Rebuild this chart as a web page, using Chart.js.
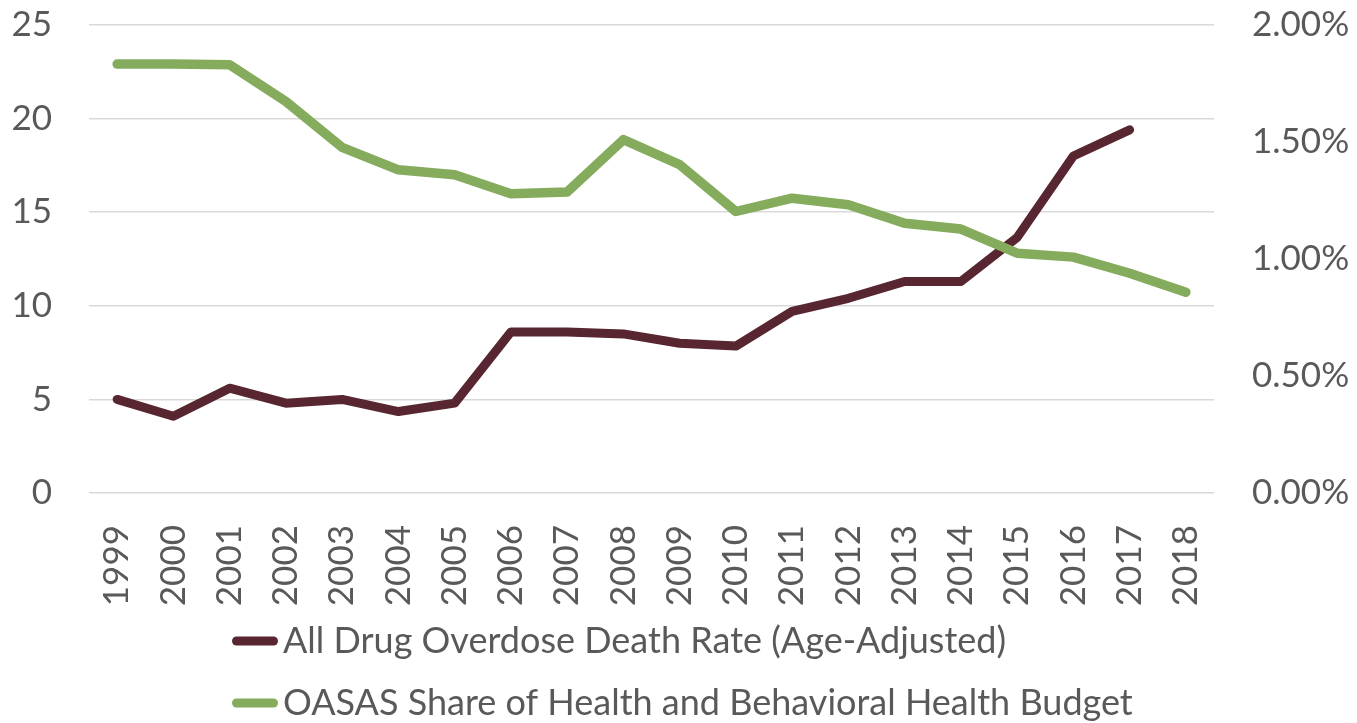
<!DOCTYPE html>
<html>
<head>
<meta charset="utf-8">
<title>Overdose deaths and OASAS budget share</title>
<script src="https://cdn.jsdelivr.net/npm/chart.js@4.4.1/dist/chart.umd.min.js"></script>
<style>
  html, body { margin: 0; padding: 0; background: #fff; }
  #wrap { width: 1357px; height: 723px; position: relative; }
</style>
</head>
<body>
<div id="wrap"><canvas id="overdose-chart"></canvas></div>
<script>
// Data series
const years = ['1999', '2000', '2001', '2002', '2003', '2004', '2005', '2006', '2007', '2008',
  '2009', '2010', '2011', '2012', '2013', '2014', '2015', '2016', '2017', '2018'];

// deaths per 100k, age-adjusted (no 2018 value yet)
const deathRate = [5.0, 4.1, 5.6, 4.8, 5.0, 4.35, 4.8, 8.6, 8.6, 8.5,
  8.0, 7.85, 9.7, 10.4, 11.3, 11.3, 13.65, 18.0, 19.4, null];

// OASAS share of health + behavioral health budget, in percent
const oasasShare = [1.833, 1.833, 1.830, 1.673, 1.477, 1.381, 1.360, 1.279, 1.286, 1.510,
  1.403, 1.203, 1.260, 1.232, 1.153, 1.128, 1.025, 1.008, 0.939, 0.858];

const rateAxis = { min: 0, max: 25, step: 5 };
const shareAxis = { min: 0, max: 2, step: 0.5 };

const seriesLabels = [
  'All Drug Overdose Death Rate (Age-Adjusted)',
  'OASAS Share of Health and Behavioral Health Budget'
];

const TEXT = '#595959';
const GRID = '#d9d9d9';
const FONT = 'Lato, "Noto Sans", sans-serif';

// fixed axis boxes; tick padding would otherwise push the plot area down
const fixWidth = w => scale => {
  scale.width = w;
  scale.paddingTop = 0;
  scale.paddingBottom = 0;
};

// Legend stacked in two left-aligned rows under the axis
const stackedLegend = {
  id: 'stackedLegend',
  afterDraw(chart, args, opts) {
    const { ctx } = chart;
    ctx.save();
    ctx.font = `${opts.size}px ${FONT}`;
    ctx.textBaseline = 'middle';
    ctx.textAlign = 'left';
    chart.data.datasets.forEach((ds, i) => {
      const y = opts.top + i * opts.rowHeight;
      ctx.strokeStyle = ds.borderColor;
      ctx.lineWidth = 9;
      ctx.lineCap = 'round';
      ctx.beginPath();
      ctx.moveTo(opts.left + 4.5, y);
      ctx.lineTo(opts.left + 41.5, y);
      ctx.stroke();
      ctx.fillStyle = TEXT;
      ctx.fillText(ds.label, opts.left + 51, y);
    });
    ctx.restore();
  }
};

const ctx = document.getElementById('overdose-chart');

new Chart(ctx, {
  type: 'line',
  data: {
    labels: years,
    datasets: [
      {
        label: seriesLabels[0],
        data: deathRate,
        yAxisID: 'rate',
        borderColor: '#582631',
        backgroundColor: '#582631',
        borderWidth: 9,
        order: 1
      },
      {
        label: seriesLabels[1],
        data: oasasShare,
        yAxisID: 'share',
        borderColor: '#84ac5c',
        backgroundColor: '#84ac5c',
        borderWidth: 9.5,
        order: 0
      }
    ]
  },
  options: {
    responsive: true,
    maintainAspectRatio: false,
    animation: false,
    layout: {
      autoPadding: false,
      padding: { top: 25, bottom: 100, left: 0, right: 0 }
    },
    elements: {
      line: { tension: 0, borderCapStyle: 'round', borderJoinStyle: 'round', spanGaps: false },
      point: { radius: 0, hoverRadius: 0 }
    },
    scales: {
      x: {
        offset: true,
        grid: { display: false },
        border: { display: false },
        ticks: {
          color: TEXT,
          font: { family: FONT, size: 35 },
          minRotation: 90,
          maxRotation: 90,
          padding: 24,
          autoSkip: false
        },
        afterFit(scale) {
          scale.height = 130;
          scale.paddingLeft = 0;
          scale.paddingRight = 0;
        }
      },
      rate: {
        position: 'left',
        min: rateAxis.min,
        max: rateAxis.max,
        border: { display: false },
        grid: { color: GRID, lineWidth: 1.5, drawTicks: false },
        ticks: {
          stepSize: rateAxis.step,
          color: TEXT,
          font: { family: FONT, size: 35 },
          padding: 37
        },
        afterFit: fixWidth(89)
      },
      share: {
        position: 'right',
        min: shareAxis.min,
        max: shareAxis.max,
        border: { display: false },
        grid: { drawOnChartArea: false, drawTicks: false },
        ticks: {
          stepSize: shareAxis.step,
          color: TEXT,
          font: { family: FONT, size: 35 },
          padding: 38,
          callback: v => v.toFixed(2) + '%'
        },
        afterFit: fixWidth(143)
      }
    },
    plugins: {
      legend: { display: false },
      tooltip: { enabled: false },
      stackedLegend: { left: 232, top: 641, rowHeight: 62, size: 36 }
    }
  },
  plugins: [stackedLegend]
});
</script>
</body>
</html>
